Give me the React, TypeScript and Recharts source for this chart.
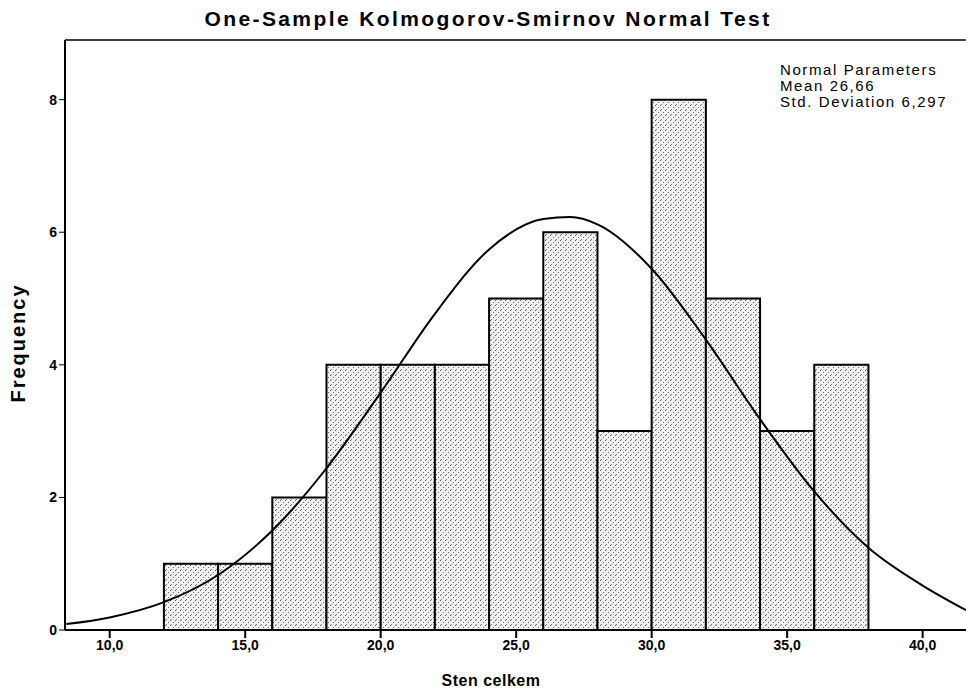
import React from 'react';
import {
  ComposedChart,
  Line,
  XAxis,
  YAxis,
  ReferenceArea,
  ReferenceLine,
} from 'recharts';

// histogram bins (lower edge, upper edge) and counts
const binStart = [12, 14, 16, 18, 20, 22, 24, 26, 28, 30, 32, 34, 36];
const binEnd = [14, 16, 18, 20, 22, 24, 26, 28, 30, 32, 34, 36, 38];
const counts = [1, 1, 2, 4, 4, 4, 5, 6, 3, 8, 5, 3, 4];

// fitted normal curve
const curveX = [8.4, 10, 12, 14, 16, 18, 20, 22, 24, 26, 27, 28, 30, 32, 34, 36, 38, 40, 41.6];
const curveY = [0.09, 0.19, 0.42, 0.83, 1.5, 2.44, 3.58, 4.77, 5.74, 6.2, 6.23, 6.12, 5.45, 4.38, 3.18, 2.09, 1.24, 0.67, 0.3];

const xTicks = [10, 15, 20, 25, 30, 35, 40];
const yTicks = [0, 2, 4, 6, 8];

const legendLines = ['Normal Parameters', 'Mean 26,66', 'Std. Deviation 6,297'];

const X_MIN = 8.35;
const X_MAX = 41.6;
const Y_MAX = 8.9;

const FONT = '"Liberation Sans", Arial, sans-serif';

export default function App() {
  const curveData = curveX.map((x, i) => ({ x, y: curveY[i] }));

  return (
    <div style={{ position: 'absolute', left: 0, top: 0, width: 966, height: 696, background: '#fff', fontFamily: FONT }}>
      <ComposedChart
        width={966}
        height={696}
        data={curveData}
        margin={{ top: 40, right: 0, bottom: 36, left: 0 }}
      >
        <defs>
          <pattern id="stipple" width="5" height="5" patternUnits="userSpaceOnUse">
            <rect width="5" height="5" fill="#f0f0f0" />
            <rect x="0" y="0" width="1" height="1" fill="#555" />
            <rect x="3" y="2" width="1" height="1" fill="#666" />
            <rect x="1" y="4" width="1" height="1" fill="#777" />
          </pattern>
        </defs>
        <XAxis
          dataKey="x"
          type="number"
          domain={[X_MIN, X_MAX]}
          allowDataOverflow
          ticks={xTicks}
          tickFormatter={(v: number) => v.toFixed(1).replace('.', ',')}
          tick={{ fill: '#000', fontSize: 14, fontWeight: 'bold', fontFamily: FONT }}
          tickSize={8}
          height={30}
          stroke="#000"
          strokeWidth={2}
          axisLine={{ stroke: '#000', strokeWidth: 2 }}
          tickLine={{ stroke: '#000', strokeWidth: 2 }}
        />
        <YAxis
          type="number"
          domain={[0, Y_MAX]}
          allowDataOverflow
          ticks={yTicks}
          width={65}
          tick={{ fill: '#000', fontSize: 14, fontWeight: 'bold', fontFamily: FONT }}
          tickSize={6}
          axisLine={{ stroke: '#000', strokeWidth: 2 }}
          tickLine={{ stroke: '#000', strokeWidth: 1 }}
        />
        <ReferenceLine y={Y_MAX} stroke="#000" strokeWidth={1.5} ifOverflow="visible" />
        {counts.map((c, i) => (
          <ReferenceArea
            key={i}
            x1={binStart[i]}
            x2={binEnd[i]}
            y1={0}
            y2={c}
            fill="url(#stipple)"
            fillOpacity={1}
            stroke="#000"
            strokeWidth={2}
            ifOverflow="visible"
          />
        ))}
        <Line
          dataKey="y"
          type="monotone"
          stroke="#000"
          strokeWidth={2}
          dot={false}
          isAnimationActive={false}
        />
      </ComposedChart>

      <div style={{ position: 'absolute', left: 0, width: 976, top: 7, textAlign: 'center', fontSize: 21, fontWeight: 'bold', letterSpacing: 2.4 }}>
        One-Sample Kolmogorov-Smirnov Normal Test
      </div>
      <div style={{ position: 'absolute', left: 0, width: 982, top: 672, textAlign: 'center', fontSize: 16, fontWeight: 'bold', letterSpacing: 0.5 }}>
        Sten celkem
      </div>
      <div
        style={{
          position: 'absolute',
          left: 18,
          top: 343,
          transform: 'translate(-50%, -50%) rotate(-90deg)',
          fontSize: 20,
          fontWeight: 'bold',
          letterSpacing: 2,
          whiteSpace: 'nowrap',
        }}
      >
        Frequency
      </div>
      <div style={{ position: 'absolute', left: 780, top: 62, fontSize: 15, lineHeight: '16px', letterSpacing: 1.6 }}>
        {legendLines.map((t) => (
          <div key={t}>{t}</div>
        ))}
      </div>
    </div>
  );
}
